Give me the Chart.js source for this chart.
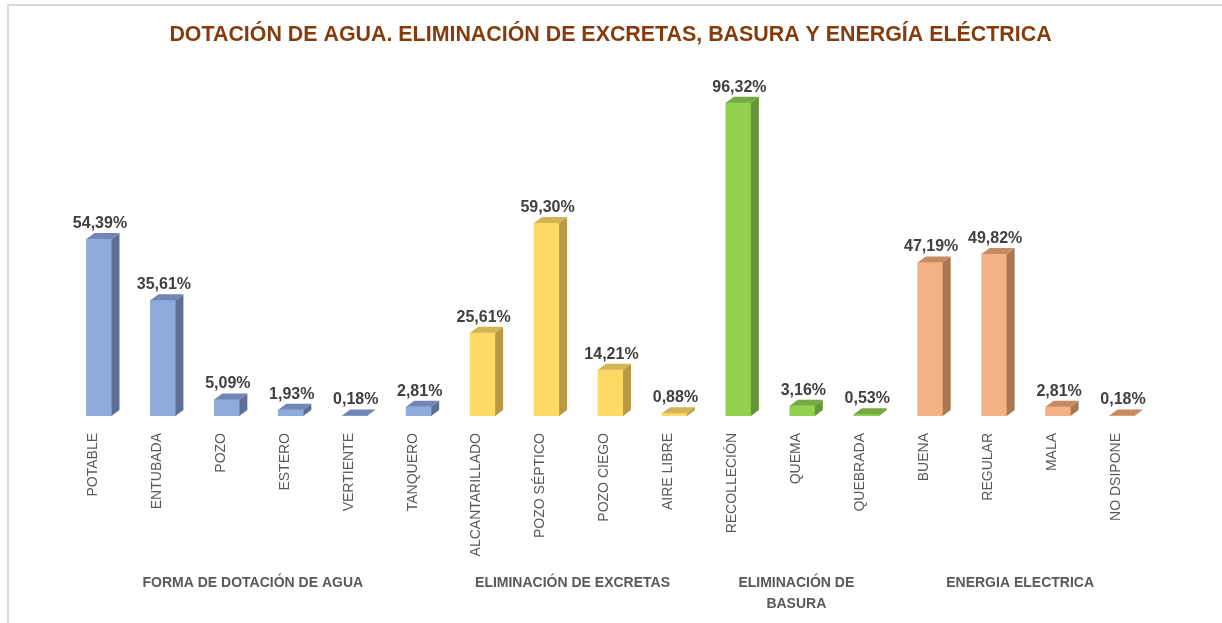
<!DOCTYPE html>
<html>
<head>
<meta charset="utf-8">
<script src="https://cdn.jsdelivr.net/npm/chart.js@4.4.1/dist/chart.umd.min.js"></script>
<style>
  html, body { margin: 0; padding: 0; background: #fff; overflow: hidden; }
  #wrap { position: relative; width: 1222px; height: 623px; }
  #frame {
    position: absolute; left: 7px; top: 4px; width: 1300px; height: 700px;
    border-top: 2px solid #d9d9d9; border-left: 2px solid #d9d9d9;
    pointer-events: none;
  }
</style>
</head>
<body>
<div id="wrap">
  <canvas id="chart" width="1222" height="623"></canvas>
  <div id="frame"></div>
</div>
<script>
// ---- data ----
const categories = [
  "POTABLE", "ENTUBADA", "POZO", "ESTERO", "VERTIENTE", "TANQUERO",
  "ALCANTARILLADO", "POZO SÉPTICO", "POZO CIEGO", "AIRE LIBRE",
  "RECOLLECIÓN", "QUEMA", "QUEBRADA",
  "BUENA", "REGULAR", "MALA", "NO DSIPONE"
];
const values = [
  54.39, 35.61, 5.09, 1.93, 0.18, 2.81,
  25.61, 59.30, 14.21, 0.88,
  96.32, 3.16, 0.53,
  47.19, 49.82, 2.81, 0.18
];
const groupNames = [
  ["FORMA DE DOTACIÓN DE AGUA"],
  ["ELIMINACIÓN DE EXCRETAS"],
  ["ELIMINACIÓN DE", "BASURA"],
  ["ENERGIA ELECTRICA"]
];
const groupFirst = [0, 6, 10, 13];
const groupLast = [5, 9, 12, 16];

// colours per group: front, side, top
const frontColors = ["#8FAADC", "#FFD966", "#92D050", "#F4B183"];
const sideColors = ["#5D6F97", "#B99B46", "#629637", "#A97652"];
const topColors = ["#7087B5", "#D3B455", "#74AA41", "#C68B62"];

const LABEL_SHIFT = -6; // category labels sit a bit left of the bar front
const DEPTH_X = 8, DEPTH_Y = 6;

function groupOf(i) {
  for (let g = 0; g < groupFirst.length; g++) {
    if (i >= groupFirst[g] && i <= groupLast[g]) return g;
  }
  return 0;
}

function fmtPct(v) {
  return v.toFixed(2).replace(".", ",") + "%";
}

// ---- 3D faces, value labels and group titles ----
const bar3d = {
  id: "bar3d",
  afterDatasetsDraw(chart) {
    const ctx = chart.ctx;
    const meta = chart.getDatasetMeta(0);
    ctx.save();
    meta.data.forEach((bar, i) => {
      const g = groupOf(i);
      const { x, y, base, width } = bar.getProps(["x", "y", "base", "width"], true);
      const l = x - width / 2, r = x + width / 2;

      // side face
      ctx.fillStyle = sideColors[g];
      ctx.beginPath();
      ctx.moveTo(r, y);
      ctx.lineTo(r + DEPTH_X, y - DEPTH_Y);
      ctx.lineTo(r + DEPTH_X, base - DEPTH_Y);
      ctx.lineTo(r, base);
      ctx.closePath();
      ctx.fill();

      // top face
      ctx.fillStyle = topColors[g];
      ctx.beginPath();
      ctx.moveTo(l, y);
      ctx.lineTo(l + DEPTH_X, y - DEPTH_Y);
      ctx.lineTo(r + DEPTH_X, y - DEPTH_Y);
      ctx.lineTo(r, y);
      ctx.closePath();
      ctx.fill();

      // value label
      ctx.fillStyle = "#404040";
      ctx.font = "bold 16px 'Liberation Sans', Arial, sans-serif";
      ctx.textAlign = "center";
      ctx.textBaseline = "alphabetic";
      ctx.fillText(fmtPct(values[i]), x + 1, y - 11);
    });

    // group titles under the category labels
    const xs = chart.scales.x;
    ctx.fillStyle = "#595959";
    ctx.font = "bold 14px 'Liberation Sans', Arial, sans-serif";
    ctx.textAlign = "center";
    ctx.textBaseline = "middle";
    groupNames.forEach((lines, g) => {
      const cx = (xs.getPixelForValue(groupFirst[g]) + xs.getPixelForValue(groupLast[g])) / 2 + LABEL_SHIFT;
      lines.forEach((t, k) => ctx.fillText(t, cx, 583 + k * 21));
    });
    ctx.restore();
  }
};

new Chart(document.getElementById("chart"), {
  type: "bar",
  data: {
    labels: categories,
    datasets: [{
      data: values,
      backgroundColor: values.map((v, i) => frontColors[groupOf(i)]),
      borderWidth: 0,
      barThickness: 25
    }]
  },
  options: {
    responsive: false,
    animation: false,
    layout: { padding: { left: 67, right: 68, top: 0, bottom: 0 } },
    plugins: {
      legend: { display: false },
      tooltip: { enabled: false },
      title: {
        display: true,
        text: "DOTACIÓN DE AGUA. ELIMINACIÓN DE EXCRETAS, BASURA Y ENERGÍA ELÉCTRICA",
        color: "#843C0C",
        font: { family: "'Liberation Sans', Arial, sans-serif", size: 21.4, weight: "bold", lineHeight: 1.2 },
        padding: { top: 22, bottom: 43 }
      }
    },
    scales: {
      x: {
        grid: { display: false, drawTicks: false },
        border: { display: false },
        ticks: {
          autoSkip: false,
          minRotation: 90,
          maxRotation: 90,
          padding: 17,
          labelOffset: LABEL_SHIFT,
          color: "#595959",
          font: { family: "'Liberation Sans', Arial, sans-serif", size: 14 }
        },
        afterFit(scale) { scale.height = 207; }
      },
      y: {
        display: false,
        min: 0,
        max: 100
      }
    }
  },
  plugins: [bar3d]
});
</script>
</body>
</html>
